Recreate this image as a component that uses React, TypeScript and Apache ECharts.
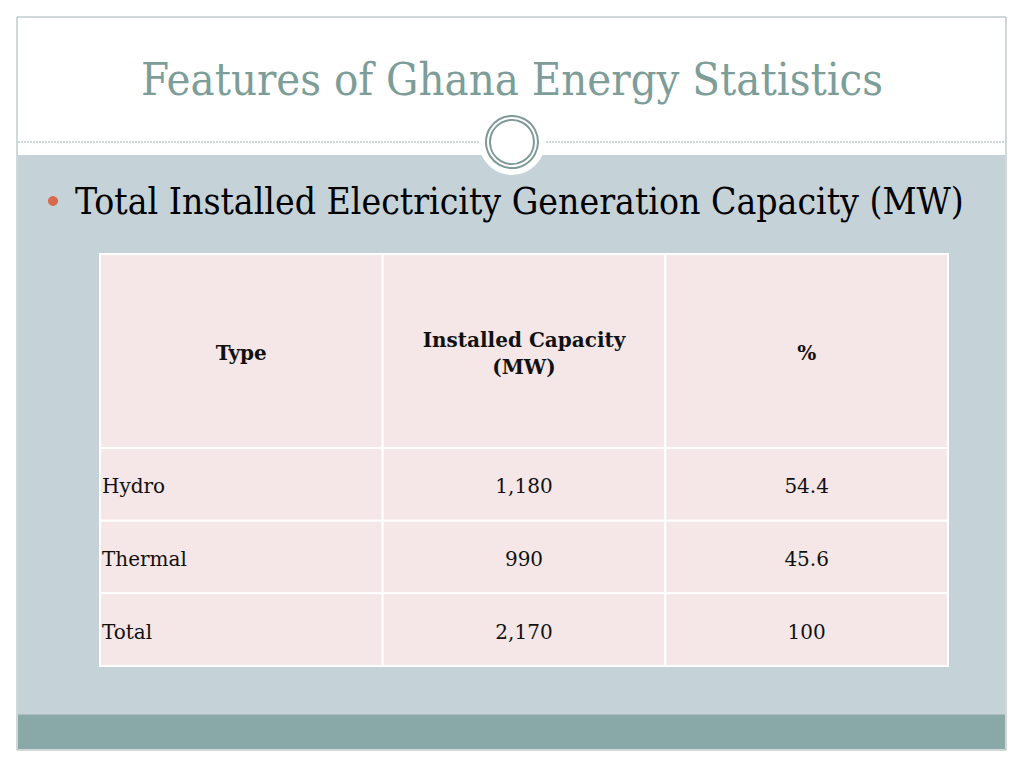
import React, { useEffect, useRef } from "react";
import * as echarts from "echarts";

const titleText = "Features of Ghana Energy Statistics";
const bulletText = "Total Installed Electricity Generation Capacity (MW)";
const columnHeaders = ["Type", "Installed Capacity\n(MW)", "%"];
const energyTypes = ["Hydro", "Thermal", "Total"];
const capacityMW = [1180, 990, 2170];
const sharePct = [54.4, 45.6, 100];

const SERIF = "'DejaVu Serif', 'Liberation Serif', serif";
const CELL_FILL = "#f5e7e7";

export default function App() {
  const ref = useRef<HTMLDivElement>(null);
  useEffect(() => {
    if (!ref.current) return;
    const chart = echarts.init(ref.current, undefined, { renderer: "svg" });

    const headerData = columnHeaders.map((_, i) => [i, 0]);
    const bodyData: number[][] = [];
    const bodyLabels: string[] = [];
    energyTypes.forEach((t, r) => {
      bodyData.push([0, r]);
      bodyLabels.push(t);
      bodyData.push([1, r]);
      bodyLabels.push(capacityMW[r].toLocaleString("en-US"));
      bodyData.push([2, r]);
      bodyLabels.push(String(sharePct[r]));
    });

    const cell = (api: any, label: string, align: string, bold: boolean, lh: number) => {
      const c = api.coord([api.value(0), api.value(1)]);
      const s = api.size([1, 1]);
      const x0 = c[0] - s[0] / 2;
      const y0 = c[1] - s[1] / 2;
      return {
        type: "group",
        children: [
          {
            type: "rect",
            shape: { x: x0, y: y0, width: s[0], height: s[1] },
            style: { fill: CELL_FILL, stroke: "#ffffff", lineWidth: 2 },
          },
          {
            type: "text",
            style: {
              text: label,
              x: align === "left" ? x0 + 2 : c[0],
              y: c[1] + 2,
              align,
              verticalAlign: "middle",
              fontFamily: SERIF,
              fontSize: 20,
              fontWeight: bold ? "bold" : "normal",
              lineHeight: lh,
              fill: "#111111",
            },
          },
        ],
      };
    };

    chart.setOption({
      animation: false,
      backgroundColor: "#ffffff",
      grid: [
        { left: 100, width: 848, top: 254, height: 194 },
        { left: 100, width: 848, top: 448, height: 218 },
      ],
      xAxis: [
        { type: "category", gridIndex: 0, data: columnHeaders, show: false },
        { type: "category", gridIndex: 1, data: columnHeaders, show: false },
      ],
      yAxis: [
        { type: "category", gridIndex: 0, data: ["header"], show: false },
        { type: "category", gridIndex: 1, data: energyTypes, inverse: true, show: false },
      ],
      series: [
        {
          type: "custom",
          xAxisIndex: 0,
          yAxisIndex: 0,
          z: 10,
          data: headerData,
          renderItem: (params: any, api: any) =>
            cell(api, columnHeaders[params.dataIndex], "center", true, 27),
        },
        {
          type: "custom",
          xAxisIndex: 1,
          yAxisIndex: 1,
          z: 10,
          data: bodyData,
          renderItem: (params: any, api: any) =>
            cell(api, bodyLabels[params.dataIndex], params.dataIndex % 3 === 0 ? "left" : "center", false, 24),
        },
      ],
      graphic: [
        { type: "rect", z: -10, shape: { x: 17, y: 17, width: 989, height: 733 }, style: { fill: "#ffffff", stroke: "#a3b0b2", lineWidth: 1 } },
        { type: "rect", z: -9, shape: { x: 18, y: 155, width: 987, height: 560 }, style: { fill: "#c5d2d7" } },
        { type: "rect", z: -9, shape: { x: 18, y: 715, width: 987, height: 34 }, style: { fill: "#89a9a9" } },
        { type: "line", z: -8, shape: { x1: 18, y1: 715, x2: 1005, y2: 715 }, style: { stroke: "#95a6a8", lineWidth: 1 } },
        { type: "line", z: -8, shape: { x1: 18, y1: 142, x2: 1005, y2: 142 }, style: { stroke: "#9fb0b0", lineWidth: 1, lineDash: [2, 1] } },
        { type: "circle", z: -7, shape: { cx: 512, cy: 142, r: 33 }, style: { fill: "#ffffff" } },
        { type: "circle", z: -6, shape: { cx: 512, cy: 142, r: 26 }, style: { fill: "none", stroke: "#7d9a97", lineWidth: 2 } },
        { type: "circle", z: -6, shape: { cx: 512, cy: 142, r: 22 }, style: { fill: "none", stroke: "#7d9a97", lineWidth: 2 } },
        {
          type: "text",
          z: -5,
          style: {
            text: titleText,
            x: 512,
            y: 79,
            align: "center",
            verticalAlign: "middle",
            fontFamily: "'DejaVu Serif Condensed', 'DejaVu Serif', serif",
            fontSize: 45,
            fill: "#7d9d99",
          },
        },
        { type: "circle", z: -5, shape: { cx: 53, cy: 201, r: 5 }, style: { fill: "#d8694b" } },
        {
          type: "text",
          z: -5,
          style: {
            text: bulletText,
            x: 75,
            y: 201,
            align: "left",
            verticalAlign: "middle",
            fontFamily: "'DejaVu Serif Condensed', 'DejaVu Serif', serif",
            fontSize: 37,
            fill: "#000000",
          },
        },
      ],
    });
    return () => chart.dispose();
  }, []);
  return (
    <div
      ref={ref}
      style={{ position: "absolute", left: 0, top: 0, width: 1024, height: 768 }}
    />
  );
}
